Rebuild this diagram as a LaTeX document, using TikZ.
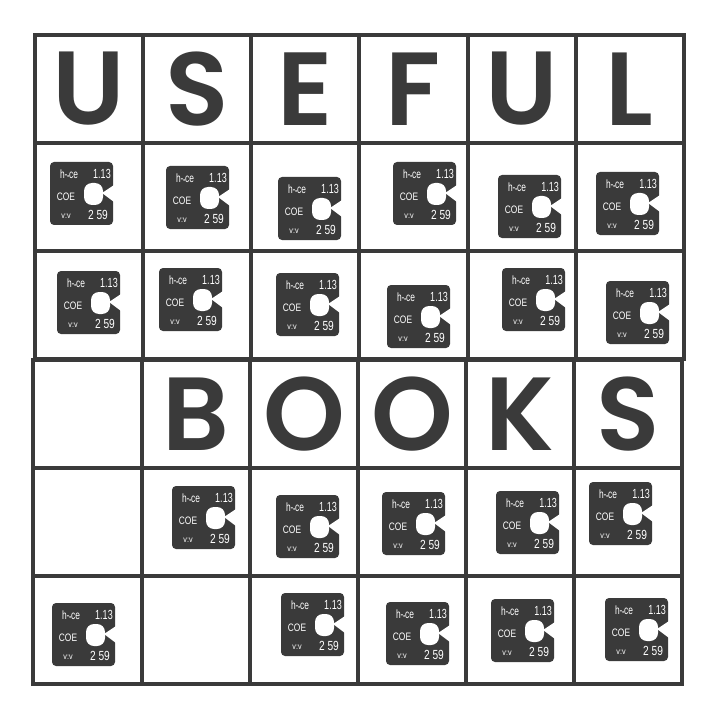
\documentclass[tikz,border=0pt]{standalone}
\usepackage{fontspec}
\usepackage{tikz}
\usetikzlibrary{matrix,positioning}
\setmainfont{Poppins}[BoldFont=Poppins SemiBold]
\newfontfamily\tilefont{Liberation Sans}
\definecolor{ink}{HTML}{3A3A3A}

\begin{document}
\begin{tikzpicture}[x=0.75pt,y=-0.75pt,
      amat/.style={matrix of nodes,nodes in empty cells,inner sep=0pt,outer sep=0pt,anchor=north west,
      row sep=-3pt,column sep=-3pt,
      nodes={draw=ink,line width=3pt,anchor=center,inner sep=0pt,outer sep=0pt,
        minimum width=81.1pt,minimum height=81pt,text=ink,font=\fontsize{78}{78}\selectfont\bfseries}},
      tiletext/.style={text=white,inner sep=0pt,font=\tilefont\fontsize{9}{9}\selectfont},
      tile/.pic={
        \fill[ink,rounded corners=3] (-31,-32) rectangle (32,31);
        \fill[white] (33,-9) -- (21,-1) -- (33,8) -- cycle;
        \fill[white,rounded corners=6] (3,-11) rectangle (22,11);
        \node[tiletext] (a) at (-12,-20) {\scalebox{.7}[1]{h-{\tiny▪}ce}};
        \node[tiletext] (b) at (21,-20) {\scalebox{.75}[1.1]{1.13}};
        \node[tiletext] (c) at (-15,3) {\scalebox{.7}[.9]{COE}};
        \node[tiletext] (d) at (-15,22) {\scalebox{.6}[.7]{v:v}};
        \node[tiletext] (e) at (17,21) {\scalebox{.85}[1.1]{2 59}};
      }]

    \useasboundingbox (0,0) rectangle (720,720);

    \matrix[amat] (mat1) at (33,33) {
     U & S & E & F & U & L \\
     & & & & & \\
     & & & & & \\};

    \matrix[amat] (mat2) at (31.5,358) {
     & B & O & O & K & S \\
     & & & & & \\
     & & & & & \\};

    % tiles, upper half
    \foreach \cx/\cy [count=\i] in {81/194,197/198,309/209,424/194,529/207,627/204,
                        88/303,190/300,307/305,418/317,533/300,637/313}
      \pic (t\i) at (\cx,\cy) {tile};

    % tiles, lower half
    \foreach \cx/\cy [count=\i] in {203/518,307/527,413/524,527/523,620/514,
                        83/635,312/625,417/634,522/631,636/630}
      \pic (u\i) at (\cx,\cy) {tile};

\end{tikzpicture}
\end{document}
